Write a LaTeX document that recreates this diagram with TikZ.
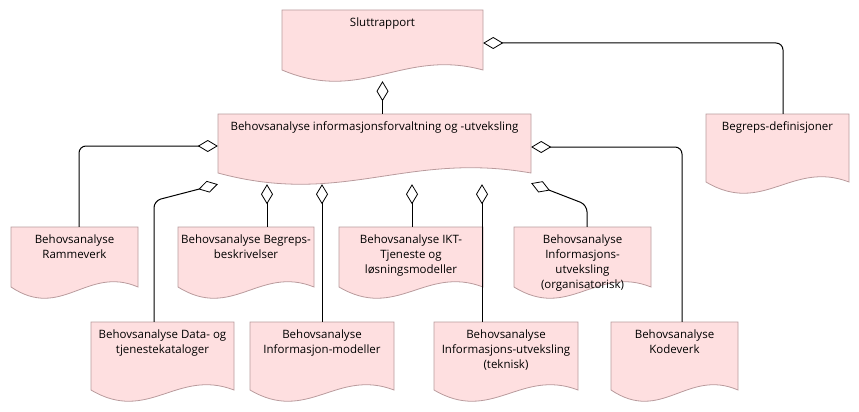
\documentclass[tikz,border=0pt]{standalone}
\usepackage{fontspec}
\setmainfont{Open Sans}
\usepackage{xcolor}
\usetikzlibrary{calc}
\usetikzlibrary{arrows.meta}

\definecolor{docfill}{RGB}{254,223,224}
\definecolor{docborder}{RGB}{185,155,157}

\begin{document}
\begin{tikzpicture}[x=1pt,y=-1pt,
  docshape/.style={fill=docfill,draw=docborder,line width=0.8pt},
  docnode/.style={rectangle,inner sep=0pt},
  doctext/.style={align=center,inner sep=0pt,text=black,font=\fontsize{11.5pt}{15pt}\selectfont},
  agg/.style={draw=black,line width=1pt,rounded corners=7pt,{Diamond[open,length=20pt,width=12pt,line width=0.8pt]}-}]

\useasboundingbox (0,0) rectangle (859,412);

\newcommand{\docbox}[6]{

  \filldraw[docshape] (#2,#3+#5) -- (#2,#3) -- (#2+#4,#3) -- (#2+#4,#3+#5)
    .. controls (#2+0.6*#4,#3+#5-22) and (#2+0.4*#4,#3+#5+34) .. (#2,#3+#5) -- cycle;

  \node[docnode,minimum width=#4pt,minimum height=#5pt] (#1) at (#2+0.5*#4,#3+0.5*#5) {};
  \node[doctext,anchor=north] (#1-txt) at ([yshift=-7.5pt]#1.north) {#6};
}

\docbox{slutt}{282}{10}{201}{60}{Sluttrapport}

\docbox{main}{218}{114}{313}{59}{Behovsanalyse informasjonsforvaltning og -utveksling}
\docbox{bdef}{706}{114}{143}{68}{Begreps-definisjoner}

\docbox{ramme}{11}{227}{127}{60}{Behovsanalyse\\Rammeverk}
\docbox{begr}{178}{227}{136}{60}{Behovsanalyse Begreps-\\beskrivelser}
\docbox{ikt}{339}{227}{144}{60}{Behovsanalyse IKT-\\Tjeneste og\\løsningsmodeller}
\docbox{org}{514}{227}{137}{60}{Behovsanalyse\\Informasjons-\\utveksling\\(organisatorisk)}

\docbox{data}{91}{322}{143}{68}{Behovsanalyse Data- og\\tjenestekataloger}
\docbox{imod}{250}{322}{144}{68}{Behovsanalyse\\Informasjon-modeller}
\docbox{tek}{434}{322}{144}{68}{Behovsanalyse\\Informasjons-utveksling\\(teknisk)}
\docbox{kode}{611}{322}{127}{68}{Behovsanalyse\\Kodeverk}

% where the connectors meet the parts
\coordinate (ramme-in) at ([xshift=4.5pt]ramme.north);
\coordinate (begr-in) at ([xshift=21pt]begr.north);
\coordinate (ikt-in) at ([xshift=1pt]ikt.north);
\coordinate (org-in) at ([xshift=4.5pt]org.north);
\coordinate (data-in) at ([xshift=-8.5pt]data.north);
\coordinate (imod-in) at (imod.north);
\coordinate (tek-in) at ([xshift=-24pt]tek.north);
\coordinate (kode-in) at ([xshift=7.5pt]kode.north);
\coordinate (bdef-in) at ([xshift=5.5pt]bdef.north);

\coordinate (data-tip) at ([yshift=-11pt]main.south west);
\coordinate (org-tip) at ([yshift=-10pt]main.south east);

\draw[agg,shorten <=11pt] (slutt.south) -- (slutt.south |- main.north);
\draw[agg] ([yshift=-3pt]slutt.east) -| (bdef-in);

\draw[agg] ([yshift=-2.5pt]main.west) -| (ramme-in);
\draw[agg] ([yshift=-3.5pt]main.east) -| (kode-in);
\draw[agg] (data-tip) -- ([yshift=121pt]data-in) -- (data-in);
\draw[agg] (org-tip) -- ([yshift=22pt]org-in) -- (org-in);

\draw[agg,shorten <=11pt] (main.south -| begr-in) -- (begr-in);
\draw[agg,shorten <=11pt] (main.south -| imod-in) -- (imod-in);
\draw[agg,shorten <=11pt] (main.south -| ikt-in) -- (ikt-in);
\draw[agg,shorten <=11pt] (main.south -| tek-in) -- (tek-in);

\end{tikzpicture}
\end{document}
